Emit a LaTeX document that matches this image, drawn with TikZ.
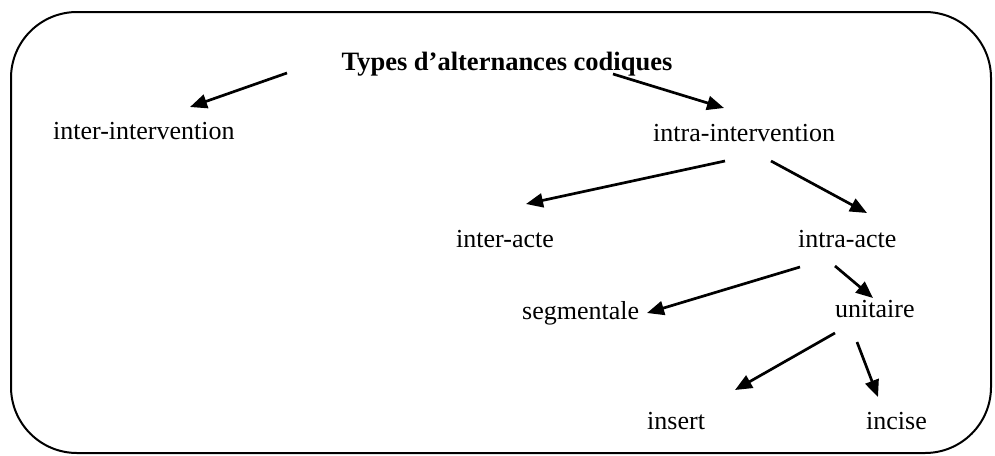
\documentclass[tikz,border=0pt]{standalone}
\usepackage{fontspec}
\setmainfont{Liberation Serif}
\usetikzlibrary{arrows.meta}
\begin{document}
\begin{tikzpicture}[x=1pt,y=-1pt,
  lbl/.style={font=\fontsize{26}{30}\selectfont, inner sep=0pt, anchor=base west},
  ttl/.style={font=\fontsize{26.5}{30}\selectfont\bfseries, inner sep=0pt, anchor=base},
  arr/.style={line width=2.7pt, -{Triangle[length=17pt,width=14pt]}}]
\useasboundingbox (0,0) rectangle (995,455);
\draw[line width=2pt, rounded corners=66pt] (11,12) rectangle (991,453);
\node[ttl] (t) at (507,70) {Types d’alternances codiques};
\node[lbl] (ie) at (53,139) {inter-intervention};
\node[lbl] (ia) at (653,141) {intra-intervention};
\node[lbl] (ea) at (456,247) {inter-acte};
\node[lbl] (aa) at (798,247) {intra-acte};
\node[lbl] (sg) at (522,319) {segmentale};
\node[lbl] (un) at (835,317) {unitaire};
\node[lbl] (is) at (647,429) {insert};
\node[lbl] (ic) at (866,429) {incise};
\coordinate (s1) at (287,73); \coordinate (e1) at (190,107);
\coordinate (s2) at (613,74); \coordinate (e2) at (724,108);
\coordinate (s3) at (725,161); \coordinate (e3) at (526,204);
\coordinate (s4) at (771,161); \coordinate (e4) at (867,213);
\coordinate (s5) at (800,267); \coordinate (e5) at (647,313);
\coordinate (s6) at (835,266); \coordinate (e6) at (873,298);
\coordinate (s7) at (835,333); \coordinate (e7) at (735,390);
\coordinate (s8) at (857,342); \coordinate (e8) at (878,397);
\draw[arr] (s1) -- (e1);
\draw[arr] (s2) -- (e2);
\draw[arr] (s3) -- (e3);
\draw[arr] (s4) -- (e4);
\draw[arr] (s5) -- (e5);
\draw[arr] (s6) -- (e6);
\draw[arr] (s7) -- (e7);
\draw[arr] (s8) -- (e8);
\end{tikzpicture}
\end{document}
